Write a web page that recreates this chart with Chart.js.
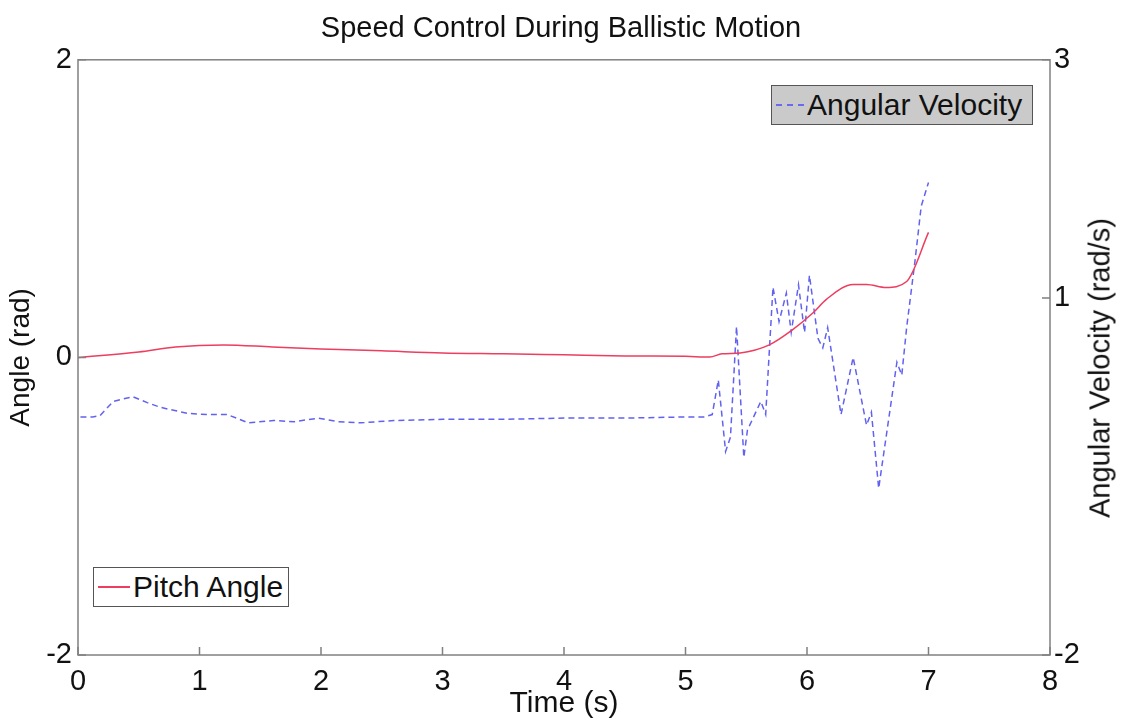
<!DOCTYPE html>
<html>
<head>
<meta charset="utf-8">
<script src="https://cdn.jsdelivr.net/npm/chart.js@4/dist/chart.umd.min.js"></script>
<style>
  body { margin: 0; background: #fff; }
  #wrap { position: relative; width: 1122px; height: 722px; font-family: "Liberation Sans", Arial, sans-serif; }
  .legend { position: absolute; height: 40px; box-sizing: border-box; border: 1px solid #555;
            display: flex; align-items: center; font-size: 30px; color: #111; padding-left: 4px; }
  .legend .sample { width: 32px; height: 0; margin-right: 3px; }
  #rightTitle { position: absolute; left: 1100px; top: 368px; transform: translate(-50%, -50%) rotate(-90deg);
                white-space: nowrap; font-size: 29px; color: #111; }
</style>
</head>
<body>
<div id="wrap">
  <canvas id="speedChart" width="1122" height="722"></canvas>
  <div class="legend" style="left:93px; top:567px; width:196px; background:#fff;">
    <span class="sample" style="border-top:2px solid #ee3d5f;"></span>Pitch Angle
  </div>
  <div class="legend" style="left:771px; top:85px; width:262px; background:#cacaca;">
    <span class="sample" style="border-top:2px dashed #6a6af0; width:28px;"></span>Angular Velocity
  </div>
  <div id="rightTitle">Angular Velocity (rad/s)</div>
</div>
<script>
// Pitch angle (left axis, rad)
const pitchTime = [0, 0.5, 0.8, 1.2, 1.6, 2.0, 2.5, 3.0, 3.5, 4.0, 4.5, 5.0, 5.2, 5.3, 5.45, 5.69, 5.88, 6.05, 6.16, 6.38, 6.49, 6.65, 6.82, 7.0];
const pitchAngle = [0, 0.037, 0.07, 0.084, 0.07, 0.057, 0.044, 0.03, 0.024, 0.017, 0.01, 0.007, 0.003, 0.024, 0.03, 0.084, 0.185, 0.30, 0.39, 0.49, 0.49, 0.47, 0.51, 0.84];

// Angular velocity (right axis, rad/s)
const velTime = [0.02, 0.12, 0.18, 0.29, 0.45, 0.57, 0.68, 0.9, 1.07, 1.23, 1.4, 1.61, 1.78, 1.98, 2.14, 2.33, 2.6, 3.0, 3.5, 4.0, 4.5, 5.0, 5.15,
                 5.22, 5.27, 5.33, 5.37, 5.42, 5.48, 5.51, 5.62, 5.66, 5.72, 5.77, 5.83, 5.87, 5.93, 5.98, 6.02, 6.09, 6.13, 6.17,
                 6.28, 6.38, 6.49, 6.53, 6.59, 6.74, 6.78, 6.82, 6.89, 6.94, 7.0];
const angVelocity = [0, 0, 0.01, 0.13, 0.17, 0.12, 0.08, 0.03, 0.02, 0.02, -0.05, -0.03, -0.04, -0.01, -0.04, -0.05, -0.03, -0.02, -0.02, -0.01, -0.01, 0, 0,
                     0.02, 0.31, -0.29, -0.17, 0.76, -0.34, -0.11, 0.13, 0.02, 1.09, 0.80, 1.04, 0.71, 1.11, 0.71, 1.19, 0.66, 0.58, 0.75,
                     0.02, 0.50, -0.07, 0.04, -0.60, 0.46, 0.35, 0.75, 1.32, 1.77, 1.97];

const timeTicks = [0, 1, 2, 3, 4, 5, 6, 7, 8];
const angleTicks = [-2, 0, 2];
const velocityTicks = [-2, 1, 3];

const FONT = "'Liberation Sans', Arial, sans-serif";

// box round the plot with inward tick marks
const frame = {
    id: "frame",
    afterDraw(chart) {
        const { ctx, chartArea: a, scales } = chart;
        ctx.save();
        ctx.strokeStyle = "#808080";
        ctx.lineWidth = 1.5;
        ctx.strokeRect(a.left, a.top, a.right - a.left, a.bottom - a.top);
        ctx.beginPath();
        timeTicks.forEach(v => {
            const x = scales.x.getPixelForValue(v);
            ctx.moveTo(x, a.bottom); ctx.lineTo(x, a.bottom - 8);
        });
        angleTicks.forEach(v => {
            const y = scales.y.getPixelForValue(v);
            ctx.moveTo(a.left, y); ctx.lineTo(a.left + 8, y);
        });
        velocityTicks.forEach(v => {
            const y = scales.y2.getPixelForValue(v);
            ctx.moveTo(a.right, y); ctx.lineTo(a.right - 8, y);
        });
        ctx.stroke();
        ctx.restore();
    }
};

const ctx = document.getElementById("speedChart").getContext("2d");
new Chart(ctx, {
    type: "line",
    data: {
        datasets: [{
            label: "Pitch Angle",
            data: pitchTime.map((t, i) => ({ x: t, y: pitchAngle[i] })),
            borderColor: "#ee3d5f",
            borderWidth: 1.5,
            pointRadius: 0,
            cubicInterpolationMode: "monotone",
            yAxisID: "y"
        }, {
            label: "Angular Velocity",
            data: velTime.map((t, i) => ({ x: t, y: angVelocity[i] })),
            borderColor: "#6262f0",
            borderWidth: 1.5,
            borderDash: [6, 4],
            pointRadius: 0,
            tension: 0,
            yAxisID: "y2"
        }]
    },
    options: {
        responsive: false,
        animation: false,
        layout: { padding: 0 },
        plugins: {
            legend: { display: false },
            tooltip: { enabled: false },
            title: {
                display: true,
                text: "Speed Control During Ballistic Motion",
                color: "#111",
                font: { family: FONT, size: 29, weight: "normal" },
                padding: { top: 12, bottom: 13 }
            }
        },
        scales: {
            x: {
                type: "linear",
                min: 0, max: 8,
                afterBuildTicks: s => { s.ticks = timeTicks.map(v => ({ value: v })); },
                afterFit: s => { s.height = 67; },
                grid: { display: false, drawTicks: false },
                border: { display: false },
                ticks: { color: "#111", font: { family: FONT, size: 29 }, padding: 10, maxRotation: 0 },
                title: { display: true, text: "Time (s)", color: "#111", font: { family: FONT, size: 30 }, padding: { top: 0, bottom: 0 } }
            },
            y: {
                position: "left",
                min: -2, max: 2,
                afterBuildTicks: s => { s.ticks = angleTicks.map(v => ({ value: v })); },
                afterFit: s => { s.width = 78; },
                grid: { display: false, drawTicks: false },
                border: { display: false },
                ticks: { color: "#111", font: { family: FONT, size: 29 }, padding: 6 },
                title: { display: true, text: "Angle (rad)", color: "#111", font: { family: FONT, size: 28 }, padding: { top: 4, bottom: 0 } }
            },
            y2: {
                position: "right",
                min: -2, max: 3,
                afterBuildTicks: s => { s.ticks = velocityTicks.map(v => ({ value: v })); },
                afterFit: s => { s.width = 72; },
                grid: { display: false, drawTicks: false },
                border: { display: false },
                ticks: { color: "#111", font: { family: FONT, size: 29 }, padding: 4 }
            }
        }
    },
    plugins: [frame]
});
</script>
</body>
</html>
